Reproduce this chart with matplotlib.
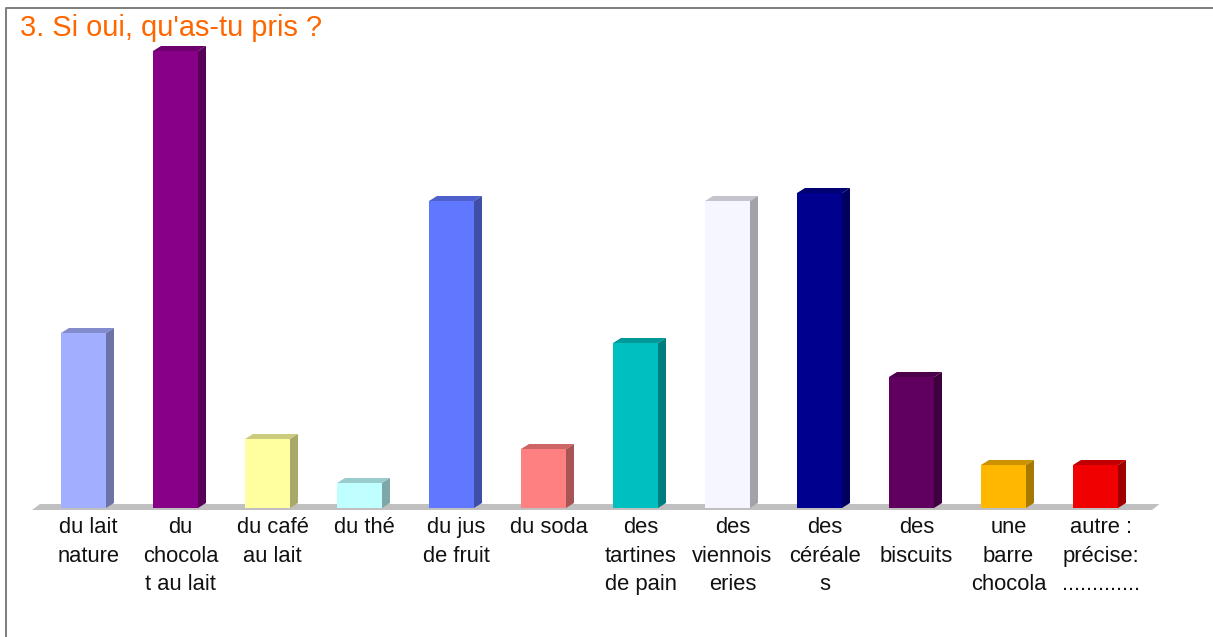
import matplotlib
matplotlib.use('Agg')
import matplotlib.pyplot as plt
from matplotlib.patches import Polygon
from matplotlib.colors import to_rgb

W, H = 1213, 637

labels = ['du lait\nnature', 'du\nchocola\nt au lait', 'du caf\u00e9\nau lait', 'du th\u00e9',
          'du jus\nde fruit', 'du soda', 'des\ntartines\nde pain', 'des\nviennois\neries',
          'des\nc\u00e9r\u00e9ale\ns', 'des\nbiscuits', 'une\nbarre\nchocola', 'autre :\npr\u00e9cise:\n.............']
values = [175, 457, 69, 25, 307, 59, 165, 307, 315, 131, 43, 43]
colors = ['#a2aeff', '#870087', '#ffff9f', '#bfffff', '#6078ff', '#ff8080',
          '#00bfc0', '#f5f6ff', '#00008f', '#5f005f', '#ffb700', '#f00000']

plt.rcParams['font.family'] = ['Liberation Sans', 'DejaVu Sans']

fig = plt.figure(figsize=(W / 100, H / 100), dpi=100)
ax = fig.add_axes([0, 0, 1, 1])
# one x unit is a category step of 92 px, one y unit is one px above the floor
ax.set_xlim(-83.5 / 92, (W - 83.5) / 92)
ax.set_ylim(-(H - 508), 508)
ax.axis('off')

dx = 8 / 92
dy = 5
bw = 45 / 92


def shade(c, f):
    r, g, b = to_rgb(c)
    return (r * f, g * f, b * f)


# floor
ax.add_patch(Polygon([[-51.5 / 92, -2], [1068.5 / 92, -2], [1076 / 92, 4], [-43.5 / 92, 4]],
                     closed=True, fc='#c0c0c0', ec='none', zorder=1))

for i, v in enumerate(values):
    x0 = i - bw / 2
    x1 = i + bw / 2
    c = colors[i]
    ax.bar(i, v, width=bw, color=c, zorder=3)
    ax.add_patch(Polygon([[x0, v], [x1, v], [x1 + dx, v + dy], [x0 + dx, v + dy]],
                         closed=True, fc=shade(c, 0.8), ec='none', zorder=3))
    ax.add_patch(Polygon([[x1, 0], [x1 + dx, dy], [x1 + dx, v + dy], [x1, v]],
                         closed=True, fc=shade(c, 0.66), ec='none', zorder=3))
    ax.text(i + 5 / 92, -9, labels[i], ha='center', va='top', fontsize=15.8,
            color='#111111', linespacing=1.47, zorder=4)

fig.add_artist(plt.Line2D([1213 / W, 6.3 / W, 6.3 / W], [1 - 8.3 / H, 1 - 8.3 / H, 0],
                          color='#808080', lw=1.44))
fig.text(19.5 / W, 1 - 36.5 / H, "3. Si oui, qu'as-tu pris ?", fontsize=20.9, color='#ff6600')

fig.savefig('out.png', dpi=100)
